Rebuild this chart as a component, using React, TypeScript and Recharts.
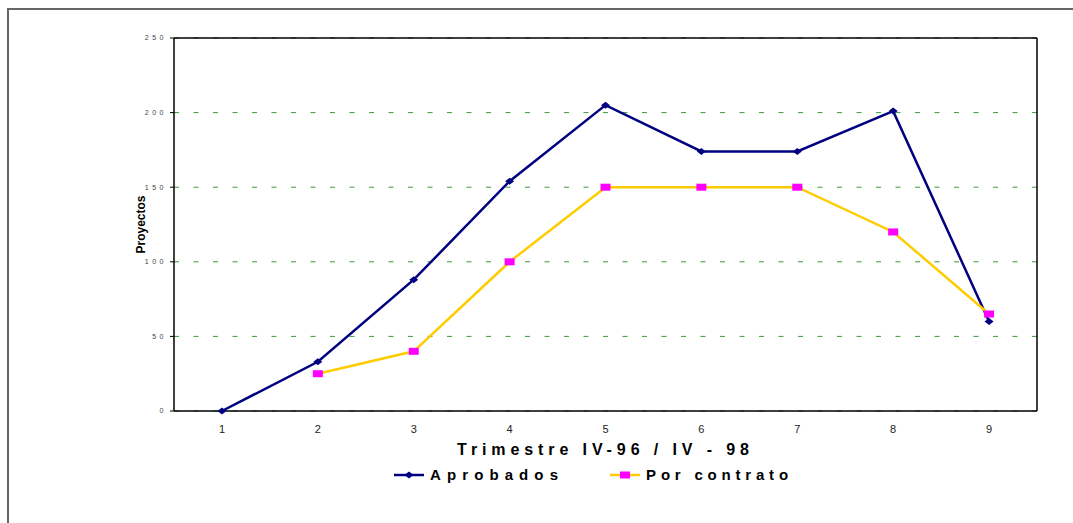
import { LineChart, Line, XAxis, YAxis, CartesianGrid, ReferenceLine, Legend } from "recharts";

// Trimestre IV-96 / IV-98
const trimestres = [1, 2, 3, 4, 5, 6, 7, 8, 9];
const aprobados = [0, 33, 88, 154, 205, 174, 174, 201, 60];
const porContrato = [null, 25, 40, 100, 150, 150, 150, 120, 65];
const yTicks = [0, 50, 100, 150, 200, 250];

const data = trimestres.map((t, i) => ({
  t,
  aprobados: aprobados[i],
  porContrato: porContrato[i],
}));

// tick marks sit between the quarters
const limites = [trimestres[0] - 0.5, ...trimestres.map((t) => t + 0.5)];

const NAVY = "#000080";
const YELLOW = "#FFCC00";
const MAGENTA = "#FF00FF";
const FONT = "'Liberation Sans', Arial, sans-serif";

const Diamond = (props: any) => {
  const { cx, cy } = props;
  if (cx == null || cy == null) return null;
  return (
    <path
      key={`d-${props.index}`}
      d={`M${cx},${cy - 3.5} L${cx + 4.5},${cy} L${cx},${cy + 3.5} L${cx - 4.5},${cy} Z`}
      fill={NAVY}
    />
  );
};

const Square = (props: any) => {
  const { cx, cy, value } = props;
  if (cx == null || cy == null || value == null) return null;
  return <rect key={`s-${props.index}`} x={cx - 5} y={cy - 3.5} width={10} height={7} fill={MAGENTA} />;
};

// spaced-out tiny labels on the value axis
const YTick = (props: any) => {
  const { x, y, payload } = props;
  return (
    <text x={x + 2} y={y} dy="0.35em" textAnchor="end" fontSize={7} fill="#444" style={{ letterSpacing: "3.5px" }}>
      {payload.value}
    </text>
  );
};

const legendText = { fontSize: 15, fontWeight: "bold" as const, color: "#000", fontFamily: FONT };

function Leyenda() {
  return (
    <div style={{ display: "flex", alignItems: "center", paddingLeft: 394 }}>
      <svg width={30} height={10}>
        <line x1={0} y1={5} x2={30} y2={5} stroke={NAVY} strokeWidth={2.5} />
        <path d="M15,1.5 L19.5,5 L15,8.5 L10.5,5 Z" fill={NAVY} />
      </svg>
      <span style={{ ...legendText, letterSpacing: 6.1, marginLeft: 6 }}>Aprobados</span>
      <svg width={30} height={10} style={{ marginLeft: 46 }}>
        <line x1={0} y1={5} x2={30} y2={5} stroke={YELLOW} strokeWidth={2.5} />
        <rect x={10} y={1.5} width={10} height={7} fill={MAGENTA} />
      </svg>
      <span style={{ ...legendText, letterSpacing: 4.8, marginLeft: 6 }}>Por contrato</span>
    </div>
  );
}

export default function App() {
  return (
    <div style={{ position: "absolute", left: 0, top: 0, width: 1073, height: 523, overflow: "hidden", background: "#fff", fontFamily: FONT }}>
      <div
        style={{
          position: "absolute",
          left: 7,
          top: 8,
          width: 1200,
          height: 800,
          borderLeft: "2px solid #666",
          borderTop: "2px solid #666",
        }}
      />
      <div style={{ position: "absolute", left: 0, top: 0 }}>
        <LineChart width={1073} height={523} data={data} margin={{ top: 38, right: 36, left: 108, bottom: 36 }}>
          <CartesianGrid vertical={false} stroke="#3a9a3a" strokeDasharray="5 14.5" strokeWidth={1} />
          <XAxis
            xAxisId="marks"
            dataKey="t"
            type="number"
            domain={[0.5, 9.5]}
            ticks={limites}
            tick={false}
            tickSize={5}
            tickLine={{ stroke: "#000", strokeWidth: 1 }}
            axisLine={false}
            height={0}
          />
          <XAxis
            xAxisId="main"
            dataKey="t"
            type="number"
            domain={[0.5, 9.5]}
            ticks={trimestres}
            tickLine={false}
            tickSize={6}
            tickMargin={8}
            tick={{ fontSize: 11, fill: "#222" }}
            axisLine={{ stroke: "#000", strokeWidth: 1.5 }}
            height={76}
            label={{
              value: "Trimestre IV-96 / IV - 98",
              position: "center",
              fontSize: 16,
              fontWeight: "bold",
              fill: "#000",
              letterSpacing: 4.9,
            }}
          />
          <YAxis
            domain={[0, 250]}
            ticks={yTicks}
            width={66}
            tickSize={4}
            tickMargin={5}
            tick={<YTick />}
            tickLine={{ stroke: "#000", strokeWidth: 1 }}
            axisLine={{ stroke: "#000", strokeWidth: 1.5 }}
            label={{
              value: "Proyectos",
              position: "center",
              angle: -90,
              fontSize: 12,
              fontWeight: "bold",
              fill: "#000",
            }}
          />
          <ReferenceLine xAxisId="main" y={250} stroke="#000" strokeWidth={1.5} />
          <ReferenceLine xAxisId="main" x={9.5} stroke="#000" strokeWidth={1.5} />
          <Line
            xAxisId="main"
            dataKey="aprobados"
            stroke={NAVY}
            strokeWidth={2.5}
            dot={Diamond}
            activeDot={false}
            isAnimationActive={false}
          />
          <Line
            xAxisId="main"
            dataKey="porContrato"
            stroke={YELLOW}
            strokeWidth={2.5}
            dot={Square}
            activeDot={false}
            isAnimationActive={false}
          />
          <Legend
            verticalAlign="middle"
            align="center"
            content={<Leyenda />}
            wrapperStyle={{ top: 466, left: 0, width: 1073 }}
          />
        </LineChart>
      </div>
    </div>
  );
}
